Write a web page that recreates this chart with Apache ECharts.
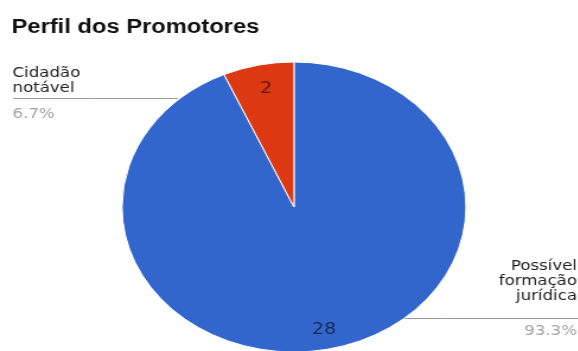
<!DOCTYPE html>
<html>
<head>
<meta charset="utf-8">
<script src="https://cdn.jsdelivr.net/npm/echarts@6/dist/echarts.min.js"></script>
<style>
  html, body { margin: 0; padding: 0; background: #fff; overflow: hidden; }
  #wrap { width: 578px; height: 351px; overflow: hidden; position: relative; }
  #chart { position: absolute; left: 0; top: 0; height: 351px; transform-origin: 0 0; }
</style>
</head>
<body>
<div id="wrap"><div id="chart"></div></div>
<script>
// Chart data
const categories = ['Possível formação jurídica', 'Cidadão notável'];
const counts = [28, 2];
const sliceColors = ['#3366cc', '#dc3912'];
const chartTitle = 'Perfil dos Promotores';

// The drawing is stretched horizontally, so the pie reads as an ellipse.
const SCALE_X = 1.186;
const W = 578 / SCALE_X;
const sx = x => x / SCALE_X;

const el = document.getElementById('chart');
el.style.width = W + 'px';
el.style.transform = 'scaleX(' + SCALE_X + ')';

// Label placement (page pixels; x is converted to the unstretched space)
const valueLabelPos = [[324, 330], [266, 88.5]];
const nameLabelPos = [
  { x: 577, y: 259, align: 'right' },
  { x: 12.5, y: 66, align: 'left' }
];
const pctLabelPos = [
  { x: 577, y: 324, align: 'right' },
  { x: 12.5, y: 106.5, align: 'left' }
];
const guideLines = [
  { from: 317, to: 578, y: 318.5 },
  { from: 178, to: 13, y: 98.5 }
];

const pieData = categories.map((name, i) => ({
  name: name,
  value: counts[i],
  itemStyle: { color: sliceColors[i] }
}));
const ghostData = categories.map((name, i) => ({ name: name, value: counts[i] }));

const center = [sx(294), 207];
const radius = 145;
const labelFont = 'DejaVu Sans';

const chart = echarts.init(el, null, { renderer: 'canvas' });
chart.setOption({
  animation: false,
  backgroundColor: '#ffffff',
  title: {
    text: chartTitle,
    left: sx(11.5),
    top: 17.5,
    padding: 0,
    textStyle: {
      fontFamily: 'Liberation Sans',
      fontSize: 20,
      fontWeight: 'bold',
      color: '#111111'
    }
  },
  series: [
    {
      type: 'pie',
      name: 'fatias',
      center: center,
      radius: radius,
      startAngle: 90,
      clockwise: true,
      silent: true,
      avoidLabelOverlap: false,
      itemStyle: { borderColor: '#ffffff', borderWidth: 1 },
      label: {
        show: true,
        position: 'inside',
        formatter: '{c}',
        fontFamily: labelFont,
        fontSize: 16,
        color: 'rgba(0,0,0,0.6)'
      },
      labelLine: { show: false },
      labelLayout: p => ({
        x: sx(valueLabelPos[p.dataIndex][0]),
        y: valueLabelPos[p.dataIndex][1],
        align: 'center',
        verticalAlign: 'middle',
        hideOverlap: false
      }),
      data: pieData
    },
    {
      type: 'pie',
      name: 'nomes',
      center: center,
      radius: radius,
      startAngle: 90,
      clockwise: true,
      silent: true,
      avoidLabelOverlap: false,
      itemStyle: { color: 'rgba(0,0,0,0)', borderWidth: 0 },
      label: {
        show: true,
        position: 'outside',
        formatter: p => p.name.split(' ').join('\n'),
        fontFamily: labelFont,
        fontSize: 14,
        lineHeight: 15,
        color: '#222222'
      },
      labelLine: {
        show: true,
        smooth: false,
        lineStyle: { color: '#9a9a9a', width: 1 }
      },
      labelLayout: p => {
        const pos = nameLabelPos[p.dataIndex];
        const g = guideLines[p.dataIndex];
        return {
          x: sx(pos.x),
          y: pos.y,
          align: pos.align,
          verticalAlign: 'top',
          hideOverlap: false,
          labelLinePoints: [
            [sx(g.from), g.y],
            [sx((g.from + g.to) / 2), g.y],
            [sx(g.to), g.y]
          ]
        };
      },
      data: ghostData
    },
    {
      type: 'pie',
      name: 'percentuais',
      center: center,
      radius: radius,
      startAngle: 90,
      clockwise: true,
      silent: true,
      percentPrecision: 1,
      avoidLabelOverlap: false,
      itemStyle: { color: 'rgba(0,0,0,0)', borderWidth: 0 },
      label: {
        show: true,
        position: 'outside',
        formatter: '{d}%',
        fontFamily: labelFont,
        fontSize: 14,
        lineHeight: 15,
        color: '#a3a3a3'
      },
      labelLine: { show: false },
      labelLayout: p => {
        const pos = pctLabelPos[p.dataIndex];
        return {
          x: sx(pos.x),
          y: pos.y,
          align: pos.align,
          verticalAlign: 'top',
          hideOverlap: false
        };
      },
      data: ghostData
    }
  ]
});
</script>
</body>
</html>
